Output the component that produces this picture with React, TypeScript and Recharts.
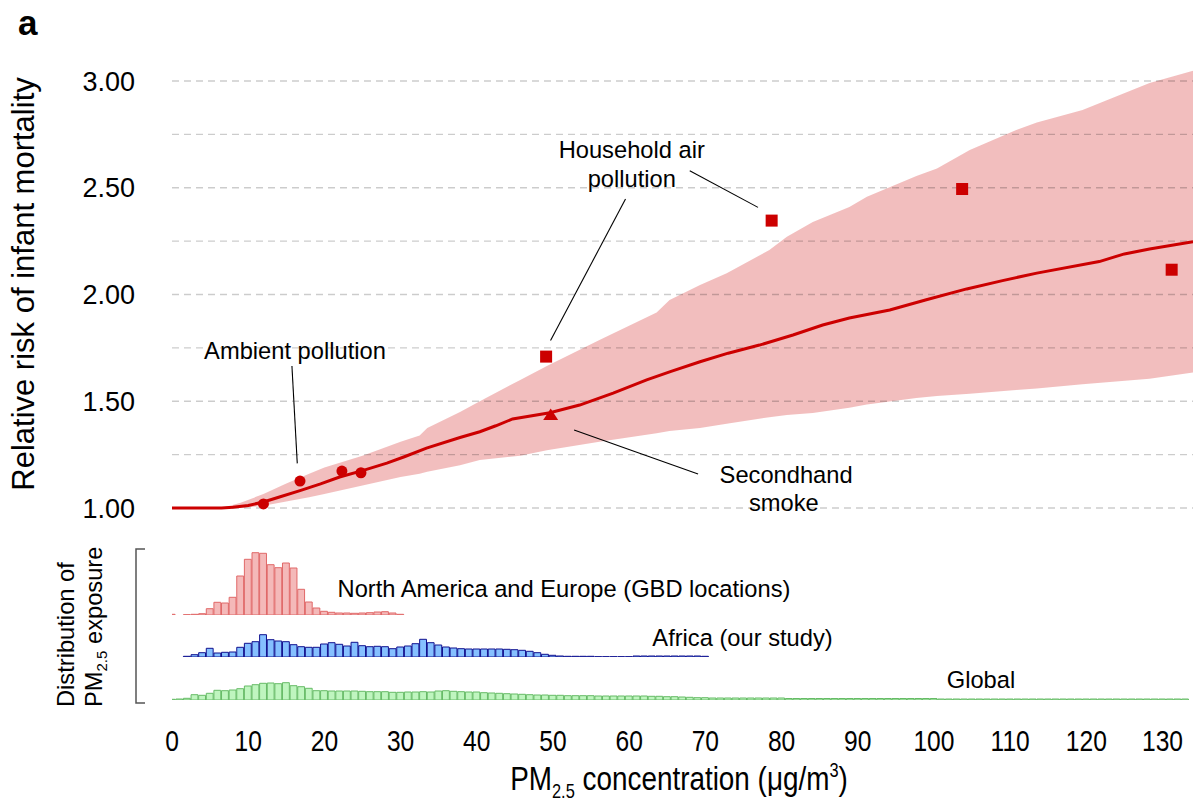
import React from 'react';
import {
  ComposedChart,
  BarChart,
  Bar,
  Line,
  Area,
  Scatter,
  XAxis,
  YAxis,
  ReferenceLine,
  ReferenceDot,
} from 'recharts';

const FONT = "'Liberation Sans', Arial, Helvetica, sans-serif";
const RED = '#cc0000';

// ---------- axes ----------
const xTicks = [0, 10, 20, 30, 40, 50, 60, 70, 80, 90, 100, 110, 120, 130];
const yTicks = [1, 1.25, 1.5, 1.75, 2, 2.25, 2.5, 2.75, 3];

// ---------- uncertainty band ----------
const bandX = [6.5, 9, 12, 15, 18, 20, 25, 30, 32.5, 33.5, 37.8, 40.4, 45.7, 49.2, 56.1, 63.6, 65.3, 69.3, 72.8, 78.4, 80.7, 84.1, 88.9, 91.2, 97.7, 100.4, 104.7, 110.8, 113.5, 119.5, 128.3, 134];
const bandLower = [1.0, 1.0, 1.01, 1.03, 1.05, 1.065, 1.105, 1.145, 1.16, 1.17, 1.2, 1.225, 1.245, 1.27, 1.31, 1.35, 1.36, 1.375, 1.395, 1.425, 1.435, 1.445, 1.47, 1.485, 1.515, 1.525, 1.535, 1.553, 1.56, 1.58, 1.605, 1.634];
const bandUpper = [1.0, 1.025, 1.065, 1.115, 1.16, 1.19, 1.245, 1.31, 1.34, 1.375, 1.45, 1.5, 1.6, 1.665, 1.787, 1.915, 1.974, 2.044, 2.1, 2.208, 2.27, 2.34, 2.41, 2.458, 2.555, 2.59, 2.677, 2.77, 2.805, 2.864, 2.99, 3.048];

// ---------- mean curve ----------
const meanX = [0, 6.5, 8, 10, 12, 14, 16.8, 19.5, 22, 25, 28.2, 30.5, 33.4, 37.8, 40.4, 42.5, 44.7, 49.6, 53.5, 57.9, 62.3, 65.5, 69.3, 73, 77.1, 81.5, 85.4, 88.9, 94.2, 99, 104.3, 109, 113.5, 121.7, 125, 128.3, 134];
const meanY = [1.0, 1.0, 1.003, 1.012, 1.028, 1.05, 1.081, 1.113, 1.145, 1.175, 1.21, 1.24, 1.28, 1.33, 1.357, 1.385, 1.417, 1.446, 1.482, 1.538, 1.6, 1.64, 1.685, 1.725, 1.763, 1.81, 1.857, 1.89, 1.927, 1.975, 2.026, 2.065, 2.1, 2.154, 2.19, 2.213, 2.247];

// ---------- study points ----------
const ambientX = [12.0, 16.8, 22.3, 24.8];
const ambientY = [1.019, 1.126, 1.173, 1.165];
const householdX = [49.1, 78.7, 103.7, 131.2];
const householdY = [1.709, 2.346, 2.494, 2.116];
const secondhandX = [49.7];
const secondhandY = [1.438];

// ---------- histograms (relative density) ----------
const naX = [0, 1, 2, 3, 4, 5, 6, 7, 8, 9, 10, 11, 12, 13, 14, 15, 16, 17, 18, 19, 20, 21, 22, 23, 24, 25, 26, 27, 28, 29, 30];
const naV = [0.7, 0, 0.3, 0.7, 1.3, 6.3, 12.7, 12, 17.7, 39, 55.7, 62.3, 61.7, 50.3, 47.3, 52, 47, 25.7, 13, 7, 3.7, 2.7, 2, 2, 1.7, 2, 2.3, 3, 3.3, 2, 0.7];

const afX = [0, 1, 2, 3, 4, 5, 6, 7, 8, 9, 10, 11, 12, 13, 14, 15, 16, 17, 18, 19, 20, 21, 22, 23, 24, 25, 26, 27, 28, 29, 30, 31, 32, 33, 34, 35, 36, 37, 38, 39, 40, 41, 42, 43, 44, 45, 46, 47, 48, 49, 50, 51, 52, 53, 54, 55, 56, 57, 58, 59, 60, 61, 62, 63, 64, 65, 66, 67, 68, 69, 70];
const afV = [0, 0, 0.7, 2.3, 4.3, 8.7, 4, 4.7, 5, 9.7, 13.7, 15.3, 22.3, 17.3, 16, 15.3, 12.3, 10.3, 9.7, 9.7, 13, 14.3, 12.7, 11, 14.7, 11.3, 10.3, 10.7, 10.3, 8.3, 10, 11, 13.3, 17.7, 14.3, 12, 10, 9, 8.3, 8, 8, 8, 8, 8, 7.7, 7.3, 6.7, 5.7, 4.3, 2.7, 1.7, 1, 0.7, 0.7, 0.7, 0.7, 0.3, 0.3, 0.3, 0.3, 0.3, 1, 1, 1, 1, 1, 1, 1, 1, 1, 0.7];

const glX = [0, 1, 2, 3, 4, 5, 6, 7, 8, 9, 10, 11, 12, 13, 14, 15, 16, 17, 18, 19, 20, 21, 22, 23, 24, 25, 26, 27, 28, 29, 30, 31, 32, 33, 34, 35, 36, 37, 38, 39, 40, 41, 42, 43, 44, 45, 46, 47, 48, 49, 50, 51, 52, 53, 54, 55, 56, 57, 58, 59, 60, 61, 62, 63, 64, 65, 66, 67, 68, 69, 70, 71, 72, 73, 74, 75, 76, 77, 78, 79, 80, 81, 82, 83, 84, 85, 86, 87, 88, 89, 90, 91, 92, 93, 94, 95, 96, 97, 98, 99, 100, 101, 102, 103, 104, 105, 106, 107, 108, 109, 110, 111, 112, 113, 114, 115, 116, 117, 118, 119, 120, 121, 122, 123, 124, 125, 126, 127, 128, 129, 130, 131, 132, 133];
const glV = [0.7, 1, 1.7, 5.3, 4.7, 6.7, 9.7, 9.3, 10, 11.3, 14, 15.3, 16.7, 17, 16.3, 17.3, 14.3, 13.3, 11.7, 9.3, 9.3, 9, 9, 9, 9, 8.7, 8.3, 8.3, 8.3, 7.7, 7.7, 8, 8, 8.3, 8, 9, 9.3, 8.7, 8.3, 8, 8, 7.3, 7, 6.7, 6.3, 6, 5.7, 5.3, 5, 5, 4.7, 4.7, 4.3, 4.3, 4.3, 4.3, 4, 4, 4, 4, 4, 4, 4, 3.7, 3.7, 3.3, 3.3, 3, 2.7, 2.3, 2.3, 2, 2, 2, 2, 2, 2, 2, 2, 2, 2, 1.5, 1.5, 1.5, 1.5, 1.5, 1.5, 1.5, 1.5, 1.5, 1.5, 1.5, 1.5, 1.5, 1.5, 1.5, 1.5, 1.5, 1.5, 1.5, 1.5, 1, 1, 1, 1, 1, 1, 1, 1, 1, 1, 1, 1, 1, 1, 1, 1, 1, 1, 1, 1, 1, 1, 1, 1, 1, 1, 1, 1, 1, 1, 1, 1, 1];

// ---------- annotations (data coordinates) ----------
const annotTexts = ['Ambient pollution', 'Household air', 'pollution', 'Secondhand', 'smoke'];
const annotX = [16.14, 60.34, 60.34, 80.6, 80.3];
const annotY = [1.7, 2.638, 2.505, 1.1185, 0.986];
const leaderFrom = [
  { x: 15.74, y: 1.665 },
  { x: 59.52, y: 2.447 },
  { x: 67.95, y: 2.58 },
  { x: 52.77, y: 1.365 },
];
const leaderTo = [
  { x: 16.44, y: 1.209 },
  { x: 49.68, y: 1.784 },
  { x: 76.91, y: 2.408 },
  { x: 69.04, y: 1.159 },
];

// ---------- derived series ----------
const bandData = bandX.map((x, i) => ({ x, band: [bandLower[i], bandUpper[i]] }));
const meanData = meanX.map((x, i) => ({ x, mean: meanY[i] }));
const ambientData = ambientX.map((x, i) => ({ x, y: ambientY[i] }));
const householdData = householdX.map((x, i) => ({ x, y: householdY[i] }));
const secondhandData = secondhandX.map((x, i) => ({ x, y: secondhandY[i] }));
const naData = naX.map((x, i) => ({ x, v: naV[i] }));
const afData = afX.map((x, i) => ({ x, v: afV[i] }));
const glData = glX.map((x, i) => ({ x, v: glV[i] }));

const W = 1193;
const LEFT = 172;
const X_DOMAIN: [number, number] = [0, 134];
const BAR_W = (W - LEFT) / (X_DOMAIN[1] - X_DOMAIN[0]);

const CircleShape = (p: any) => <circle cx={p.cx} cy={p.cy} r={5.5} fill={RED} />;
const SquareShape = (p: any) => <rect x={p.cx - 6} y={p.cy - 6} width={12} height={12} fill={RED} />;
const TriangleShape = (p: any) => (
  <polygon
    points={`${p.cx},${p.cy - 6} ${p.cx - 7.5},${p.cy + 5.5} ${p.cx + 7.5},${p.cy + 5.5}`}
    fill={RED}
  />
);

const makeLabel = (text: string) => (props: any) => {
  const vb = props.viewBox || {};
  const cx = vb.x + (vb.width || 0) / 2;
  const cy = vb.y + (vb.height || 0) / 2;
  return (
    <text x={cx} y={cy} textAnchor="middle" fontSize={23.7} fontFamily={FONT} fill="#000">
      {text}
    </text>
  );
};

const XTick = (props: any) => {
  const { x, y, payload } = props;
  return (
    <g transform={`translate(${x},${y})`}>
      <text transform="scale(0.82,1)" textAnchor="middle" y={21.5} fontSize={30} fontFamily={FONT} fill="#000">
        {payload.value}
      </text>
    </g>
  );
};

function Hist(props: {
  data: any[];
  top: number;
  plotH: number;
  fill: string;
  stroke: string;
  axis?: boolean;
}) {
  const { data, top, plotH, fill, stroke, axis } = props;
  const axisH = axis ? 101 : 0;
  return (
    <div style={{ position: 'absolute', left: 0, top }}>
      <BarChart
        width={W}
        height={plotH + axisH}
        data={data}
        margin={{ top: 0, right: 0, left: LEFT, bottom: 0 }}
        barCategoryGap={0}
      >
        <XAxis
          type="number"
          dataKey="x"
          domain={X_DOMAIN}
          allowDataOverflow
          ticks={xTicks}
          interval={0}
          hide={!axis}
          axisLine={false}
          tickLine={false}
          tickMargin={23}
          height={axisH}
          tick={<XTick />}
        />
        <YAxis hide domain={[0, plotH]} allowDataOverflow />
        <Bar
          dataKey="v"
          barSize={BAR_W}
          fill={fill}
          stroke={stroke}
          strokeWidth={1}
          isAnimationActive={false}
        />
      </BarChart>
    </div>
  );
}

export default function App() {
  return (
    <div style={{ position: 'absolute', left: 0, top: 0, width: W, height: 801, background: '#fff', fontFamily: FONT }}>
      <div style={{ position: 'absolute', left: 0, top: 0 }}>
        <ComposedChart width={W} height={535} margin={{ top: 70.3, right: 0, left: 0, bottom: 20.62 }}>
          <XAxis type="number" dataKey="x" domain={X_DOMAIN} allowDataOverflow hide />
          <YAxis
            type="number"
            dataKey="y"
            domain={[0.97, 3.05]}
            allowDataOverflow
            ticks={yTicks}
            interval={0}
            width={LEFT}
            axisLine={false}
            tickLine={false}
            tickMargin={31}
            tick={{ fontSize: 27, fill: '#000', fontFamily: FONT }}
            tickFormatter={(v: number) => (Math.round(v * 100) % 50 === 0 ? v.toFixed(2) : '')}
          />
          <Area
            data={bandData}
            dataKey="band"
            type="linear"
            fill={RED}
            fillOpacity={0.255}
            stroke="none"
            isAnimationActive={false}
          />
          {yTicks.map((t) => (
            <ReferenceLine
              key={`g${t}`}
              y={t}
              stroke="#000"
              strokeOpacity={0.2}
              strokeWidth={1.3}
              strokeDasharray="7 5"
            />
          ))}
          <Line
            data={meanData}
            dataKey="mean"
            type="linear"
            stroke={RED}
            strokeWidth={3}
            dot={false}
            isAnimationActive={false}
          />
          {leaderFrom.map((f, i) => (
            <ReferenceLine
              key={`l${i}`}
              segment={[f, leaderTo[i]]}
              stroke="#000"
              strokeWidth={1.1}
              ifOverflow="visible"
            />
          ))}
          <Scatter data={ambientData} dataKey="y" shape={CircleShape} isAnimationActive={false} />
          <Scatter data={householdData} dataKey="y" shape={SquareShape} isAnimationActive={false} />
          <Scatter data={secondhandData} dataKey="y" shape={TriangleShape} isAnimationActive={false} />
          {annotTexts.map((t, i) => (
            <ReferenceDot
              key={`a${i}`}
              x={annotX[i]}
              y={annotY[i]}
              r={1}
              fill="none"
              stroke="none"
              ifOverflow="visible"
              label={makeLabel(t)}
            />
          ))}
        </ComposedChart>
      </div>

      <Hist data={naData} top={540} plotH={75} fill="#f4b9b9" stroke="#e06868" />
      <Hist data={afData} top={620} plotH={37} fill="#85c0ff" stroke="#10108f" />
      <Hist data={glData} top={670} plotH={30} fill="#bff5bf" stroke="#66bb66" axis />

      <svg
        width={W}
        height={801}
        style={{ position: 'absolute', left: 0, top: 0, pointerEvents: 'none' }}
        fontFamily={FONT}
      >
        <text x={18} y={35} fontSize={35} fontWeight="bold" fill="#000">a</text>
        <text transform="translate(34,284) rotate(-90)" textAnchor="middle" fontSize={31} fill="#000">
          Relative risk of infant mortality
        </text>
        <text x={564} y={597} textAnchor="middle" fontSize={23.7} fill="#000">
          North America and Europe (GBD locations)
        </text>
        <text x={742.5} y={646} textAnchor="middle" fontSize={23.7} fill="#000">
          Africa (our study)
        </text>
        <text x={981} y={688} textAnchor="middle" fontSize={23.7} fill="#000">
          Global
        </text>
        <path d="M145,549 H136 V703 H145" fill="none" stroke="#555" strokeWidth={1.5} />
        <text transform="translate(74,707) rotate(-90)" fontSize={23.7} fill="#000">
          Distribution of
        </text>
        <text transform="translate(102,707) rotate(-90)" fontSize={23.7} fill="#000">
          PM<tspan fontSize={15} dy={5}>2.5</tspan>
          <tspan dy={-5}> exposure</tspan>
        </text>
        <g transform="translate(679,790)">
          <text transform="scale(0.82,1)" textAnchor="middle" fontSize={34} fill="#000">
            PM<tspan fontSize={20} dy={8}>2.5</tspan>
            <tspan dy={-8}> concentration (μg/m</tspan>
            <tspan fontSize={20} dy={-13}>3</tspan>
            <tspan dy={13}>)</tspan>
          </text>
        </g>
      </svg>
    </div>
  );
}
